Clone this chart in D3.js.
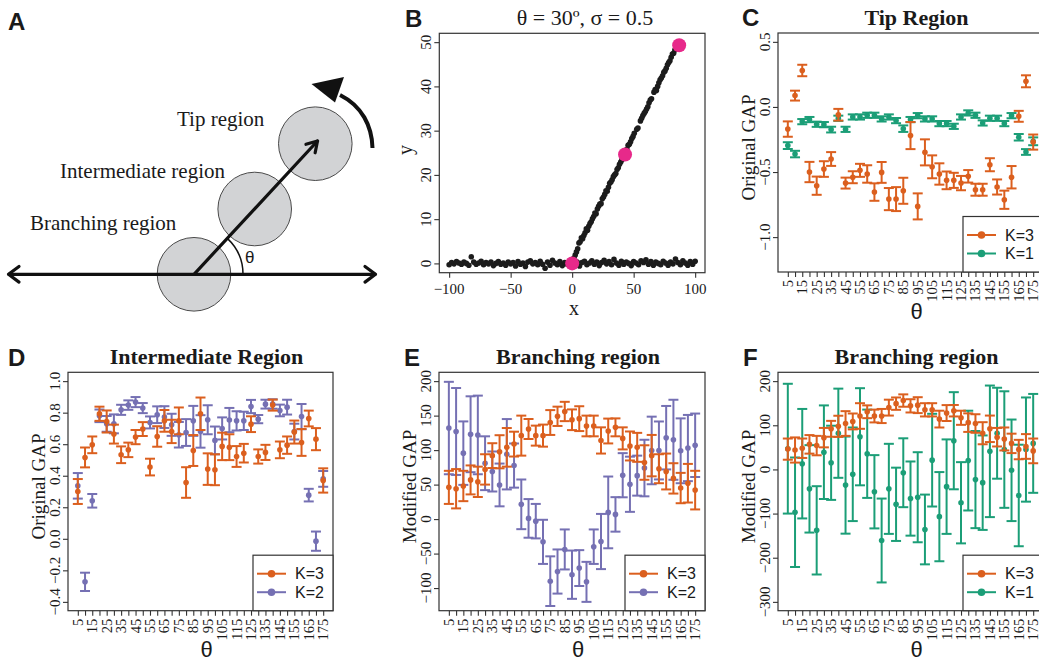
<!DOCTYPE html>
<html>
<head>
<meta charset="utf-8">
<script src="https://cdn.jsdelivr.net/npm/d3@7"></script>
<style>
  body { margin: 0; background: #fff; }
</style>
</head>
<body>
<div id="viz"></div>
<script>
const width = 1039;
const height = 662;
const serif = '"Liberation Serif", "Times New Roman", serif';
const sans = '"Liberation Sans", Arial, sans-serif';
const ink = '#1a1a1a';
const orange = '#DB5F1E';
const green = '#1B9E77';
const purple = '#7570B3';
const magenta = '#E7298A';

// Angles (deg) shared by panels C-F
const theta = [5, 10, 15, 20, 25, 30, 35, 40, 45, 50, 55, 60, 65, 70, 75, 80, 85, 90, 95, 100,
  105, 110, 115, 120, 125, 130, 135, 140, 145, 150, 155, 160, 165, 170, 175];

// Panel B: simulated branch, theta = 30, sigma = 0.5
const bBaseX = [-100, -98, -96, -94, -92, -90, -88, -86, -84, -82, -80, -78, -76, -74, -72, -70, -68, -66, -64, -62,
  -60, -58, -56, -54, -52, -50, -48, -46, -44, -42, -40, -38, -36, -34, -32, -30, -28, -26, -24, -22,
  -20, -18, -16, -14, -12, -10, -8, -6, -4, -2, 0, 2, 4, 6, 8, 10, 12, 14, 16, 18,
  20, 22, 24, 26, 28, 30, 32, 34, 36, 38, 40, 42, 44, 46, 48, 50, 52, 54, 56, 58,
  60, 62, 64, 66, 68, 70, 72, 74, 76, 78, 80, 82, 84, 86, 88, 90, 92, 94, 96, 98, 100];
const bBaseY = [-0.3, 0.2, -0.1, 0.4, 0.1, -0.2, 0.3, 0.0, -0.4, 1.5, 0.3, -0.2, 0.1, 0.5, -0.3, 0.2, -0.1, 0.3, -0.5, 0.0,
  0.4, -0.2, 0.1, -0.4, 0.3, -0.1, 0.2, -0.6, 0.4, -0.2, 0.1, -0.7, 0.3, 0.6, -0.1, 0.2, -0.3, 0.5, -0.2, -1.1,
  0.3, -0.4, 0.7, 0.1, -0.3, 0.4, -0.5, 0.2, -0.2, 0.6, 0.0, -0.4, 0.3, -0.6, 0.2, 0.5, -0.3, 0.1, 0.6, -0.2,
  0.3, -0.5, 0.2, 0.7, -0.1, 0.4, -0.3, 0.9, 0.1, -0.4, 0.5, -0.2, 0.3, 0.0, -0.5, 0.4, 0.1, -0.3, 0.6, 0.2,
  0.8, -0.2, 0.4, -0.4, 0.3, 0.0, -0.3, 0.5, 0.1, -0.4, 0.3, -0.1, 1.0, 0.2, -0.3, 0.6, 0.1, -0.4, 0.4, -0.2, 0.5];
const bBranchX = [1.5, 2.5, 3.5, 4.5, 5.5, 6.5, 7.5, 8.5, 9.5, 10.5, 11.5, 12.5, 13.5, 14.5, 15.5, 16.5, 17.5, 18.5, 19.5, 20.5,
  21.5, 22.5, 23.5, 24.5, 25.5, 26.5, 27.5, 28.5, 29.5, 30.5, 31.5, 32.5, 33.5, 34.5, 35.5, 36.5, 37.5, 38.5, 39.5, 40.5,
  41.5, 44.5, 45.5, 46.5, 47.5, 48.5, 49.5, 50.5, 52.5, 53.5, 55.5, 56.5, 57.5, 58.5, 59.5, 60.5, 61.5, 62.5, 63.5, 64.5,
  66.5, 67.5, 68.5, 69.5, 70.5, 71.5, 72.5, 73.5, 74.5, 75.5, 76.5, 77.5, 78.5, 79.5, 80.5, 81.5, 82.5, 83.5, 84.5, 85.5];
const bBranchY = [1.2, 1.9, 2.6, 3.3, 4.6, 4.9, 5.8, 5.6, 6.3, 6.9, 7.8, 7.5, 8.4, 9.0, 9.4, 10.1, 10.6, 11.4, 11.2, 12.3,
  12.9, 13.4, 13.5, 14.6, 15.0, 15.6, 16.4, 16.3, 17.2, 18.1, 18.4, 18.9, 19.6, 20.0, 20.3, 21.2, 21.6, 22.4, 22.9, 23.4,
  24.2, 25.8, 26.7, 26.9, 27.5, 28.2, 28.7, 29.4, 30.3, 30.6, 32.2, 32.8, 33.4, 33.9, 34.3, 34.9, 35.4, 36.3, 36.9, 37.2,
  38.7, 39.3, 39.1, 40.0, 40.8, 41.5, 41.9, 42.4, 43.2, 43.5, 44.1, 44.9, 45.4, 45.8, 46.6, 47.3, 47.5, 48.2, 48.9, 49.4];
const bMarkX = [0, 43, 87];
const bMarkY = [0, 24.6, 49.3];

// Panel C: tip region, original GAP
const tipK3Mean = [-0.17, 0.087, 0.28, -0.50, -0.605, -0.477, -0.40, -0.06, -0.585, -0.54, -0.487, -0.515, -0.654, -0.503, -0.708, -0.708, -0.644, -0.22,
  -0.764, -0.349, -0.46, -0.515, -0.564, -0.564, -0.585, -0.533, -0.636, -0.636, -0.444, -0.615, -0.713, -0.54, -0.072, 0.197, -0.27];
const tipK3Err = [0.059, 0.038, 0.044, 0.078, 0.070, 0.060, 0.053, 0.045, 0.042, 0.046, 0.050, 0.067, 0.067, 0.080, 0.085, 0.092, 0.100, 0.104,
  0.100, 0.100, 0.088, 0.082, 0.068, 0.058, 0.055, 0.048, 0.046, 0.046, 0.050, 0.058, 0.070, 0.086, 0.042, 0.046, 0.058];
const tipK1Mean = [-0.297, -0.362, -0.113, -0.097, -0.133, -0.136, -0.174, -0.087, -0.172, -0.077, -0.077, -0.064, -0.064, -0.092, -0.077, -0.105, -0.167, -0.097,
  -0.067, -0.092, -0.092, -0.128, -0.128, -0.149, -0.077, -0.046, -0.064, -0.123, -0.087, -0.087, -0.128, -0.067, -0.233, -0.346, -0.264];
const tipK1Err = [0.026, 0.025, 0.02, 0.02, 0.02, 0.02, 0.022, 0.02, 0.02, 0.02, 0.02, 0.02, 0.02, 0.02, 0.02, 0.02, 0.025, 0.02,
  0.02, 0.02, 0.02, 0.02, 0.02, 0.02, 0.02, 0.02, 0.02, 0.02, 0.02, 0.02, 0.02, 0.02, 0.025, 0.022, 0.03];

// Panel D: intermediate region, original GAP
const interK3Mean = [0.30, 0.516, 0.596, 0.793, 0.744, 0.664, 0.533, 0.564, 0.645, 0.696, 0.455, 0.649, 0.748, 0.681, 0.748, 0.357, 0.56, 0.793,
  0.442, 0.438, 0.586, 0.581, 0.522, 0.543, 0.727, 0.522, 0.548, 0.848, 0.564, 0.594, 0.677, 0.611, 0.763, 0.632, 0.37];
const interK3Err = [0.079, 0.063, 0.053, 0.045, 0.07, 0.06, 0.053, 0.046, 0.045, 0.044, 0.053, 0.065, 0.069, 0.074, 0.085, 0.097, 0.098, 0.103,
  0.1, 0.098, 0.087, 0.082, 0.066, 0.059, 0.05, 0.045, 0.048, 0.035, 0.053, 0.055, 0.073, 0.085, 0.05, 0.07, 0.077];
const interK2Mean = [0.336, -0.273, 0.241, 0.78, 0.729, 0.729, 0.818, 0.848, 0.867, 0.829, 0.738, 0.787, 0.772, 0.723, 0.66, 0.674, 0.748, 0.681,
  0.755, 0.624, 0.70, 0.753, 0.748, 0.748, 0.839, 0.759, 0.854, 0.855, 0.814, 0.835, 0.68, 0.775, 0.277, -0.015, 0.38];
const interK2Err = [0.081, 0.058, 0.043, 0.04, 0.05, 0.06, 0.032, 0.03, 0.032, 0.032, 0.038, 0.053, 0.069, 0.07, 0.081, 0.085, 0.095, 0.103,
  0.092, 0.088, 0.07, 0.077, 0.061, 0.058, 0.042, 0.026, 0.028, 0.03, 0.037, 0.047, 0.05, 0.08, 0.04, 0.061, 0.05];

// Panels E and F: branching region, modified GAP
const branchK3Mean = [46, 44, 48, 56.8, 54, 72, 92, 97.6, 104, 108.7, 121, 130.6, 121, 121, 140, 149, 156, 144,
  145.6, 135, 135, 114, 127.7, 133, 117, 106, 104, 82, 92, 73, 69, 59, 45, 52, 42];
const branchK3Err = [24, 28.5, 22, 21, 22, 22, 18, 24, 28, 18, 29, 14.5, 14.5, 16, 18, 14, 14, 15,
  18, 15, 15, 19, 18, 13, 16, 21, 21, 25, 30, 21, 26, 22, 22, 28, 28];
const branchK2Mean = [132, 127, 95.6, 123, 122, 81, 69, 49.5, 94, 77.6, 21.4, 1, -3, -33, -90, -76, -44, -80.6,
  -71, -91, -40, -32.5, 9.7, 6.8, 63.6, 50.5, 63, 74, 99.5, 99.5, 118, 115, 99, 103, 107];
const branchK2Err = [67, 63, 46, 55, 57, 39, 29, 31, 51, 32, 36, 28, 25, 32, 36, 32, 29, 35,
  26, 29, 25, 40, 52, 25, 32, 40, 29, 41, 49, 42, 46, 58, 47, 48, 46];
const branchK1Mean = [47, -97, 13, -44, -138, 39, 15, 82, -35.5, -11, 74, 35.5, -50.6, -161, -44, -79, -7.5, -66,
  -63, -136, 21, -107, -39, 65, -75.5, 20, -23, -30, 41, 82, 45, -2, -59, 45, 59];
const branchK1Err = [147, 124, 124, 99, 100, 106, 84, 101, 110, 106, 110, 100, 83, 95, 102, 83, 78, 84,
  102, 79, 105, 101, 107, 110, 92, 113, 110, 107, 149, 103, 132, 115, 115, 118, 112];

const svg = d3.select('#viz')
  .append('svg')
    .attr('width', width)
    .attr('height', height)
    .attr('viewBox', [0, 0, width, height]);
svg.append('rect').attr('width', width).attr('height', height).attr('fill', '#fff');

// Panel letters
const letters = [['A', 8, 30], ['B', 405, 27], ['C', 742, 26], ['D', 8, 366], ['E', 404, 366], ['F', 743, 366]];
svg.selectAll('text.letter')
  .data(letters)
  .join('text')
    .attr('class', 'letter')
    .attr('x', d => d[1])
    .attr('y', d => d[2])
    .attr('font-family', sans)
    .attr('font-weight', 'bold')
    .attr('font-size', 24)
    .attr('fill', ink)
    .text(d => d[0]);

// ---------- Panel A: schematic ----------
const gA = svg.append('g');
const circles = [[194, 274.3], [254.7, 209], [315.3, 143.7]];
gA.selectAll('circle')
  .data(circles)
  .join('circle')
    .attr('cx', d => d[0])
    .attr('cy', d => d[1])
    .attr('r', 36.8)
    .attr('fill', '#d2d3d5')
    .attr('stroke', '#4a4a4a')
    .attr('stroke-width', 1);

const armStyle = sel => sel.attr('fill', 'none').attr('stroke', '#111').attr('stroke-width', 3.2)
  .attr('stroke-linecap', 'round').attr('stroke-linejoin', 'round');
gA.append('line').attr('x1', 9).attr('y1', 274.3).attr('x2', 375).attr('y2', 274.3).call(armStyle);
gA.append('path').attr('d', 'M19,266.5 L8.5,274.3 L19,282.1').call(armStyle);
gA.append('path').attr('d', 'M365,266.5 L375.5,274.3 L365,282.1').call(armStyle);

// main arrow
const ax0 = 194, ay0 = 274.3, ax1 = 317.5, ay1 = 141;
gA.append('line').attr('x1', ax0).attr('y1', ay0).attr('x2', ax1).attr('y2', ay1).call(armStyle);
const ang = Math.atan2(ay1 - ay0, ax1 - ax0);
const head = [ang + Math.PI - 0.55, ang + Math.PI + 0.55].map(a => [ax1 + 12 * Math.cos(a), ay1 + 12 * Math.sin(a)]);
gA.append('path').attr('d', `M${head[0]} L${ax1},${ay1} L${head[1]}`).call(armStyle);

// theta arc
const rArc = 49;
gA.append('path')
  .attr('d', `M${ax0 + rArc},${ay0} A${rArc},${rArc} 0 0 0 ${ax0 + rArc * Math.cos(ang)},${ay0 + rArc * Math.sin(ang)}`)
  .attr('fill', 'none').attr('stroke', '#111').attr('stroke-width', 1.5);
gA.append('text').attr('x', 245).attr('y', 263).attr('font-family', sans).attr('font-size', 17)
  .attr('fill', ink).text('θ');

// rotation arrow
gA.append('path').attr('d', 'M372.5,148 C372,126 362,106 340,95')
  .attr('fill', 'none').attr('stroke', '#111').attr('stroke-width', 4);
gA.append('path').attr('d', 'M311.5,84 L344,77 L335,102.5 Z').attr('fill', '#111');

const regionLabels = [['Tip region', 177, 126], ['Intermediate region', 60, 178], ['Branching region', 30, 230]];
gA.selectAll('text.region')
  .data(regionLabels)
  .join('text')
    .attr('class', 'region')
    .attr('x', d => d[1])
    .attr('y', d => d[2])
    .attr('font-family', serif)
    .attr('font-size', 21)
    .attr('fill', ink)
    .text(d => d[0]);

// ---------- helpers ----------
const boxStyle = sel => sel.attr('fill', 'none').attr('stroke', '#333').attr('stroke-width', 1.2);

function yTickLabels(g, scale, ticks, fmt, bx) {
  g.selectAll('text.ytl')
    .data(ticks)
    .join('text')
      .attr('class', 'ytl')
      .attr('transform', d => `translate(${bx},${scale(d)}) rotate(-90)`)
      .attr('text-anchor', 'middle')
      .attr('font-family', serif)
      .attr('font-size', 15)
      .attr('fill', ink)
      .text(fmt);
}

function tickMarks(g, axis, transform) {
  g.append('g')
    .attr('transform', transform)
    .attr('color', '#333')
    .call(axis)
    .call(a => a.select('.domain').remove())
    .call(a => a.selectAll('line').attr('stroke-width', 1.1));
}

// ---------- Panel B ----------
(function drawB() {
  const p = {x0: 439.3, x1: 705, y0: 33.3, y1: 272.7};
  const xScale = d3.scaleLinear().domain([-108, 108]).range([p.x0, p.x1]);
  const yScale = d3.scaleLinear().domain([-2.1, 52]).range([p.y1, p.y0]);
  const g = svg.append('g');

  tickMarks(g, d3.axisBottom(xScale).tickValues([-100, -50, 0, 50, 100]).tickSize(5).tickFormat(''),
    `translate(0,${p.y1})`);
  tickMarks(g, d3.axisLeft(yScale).tickValues([0, 10, 20, 30, 40, 50]).tickSize(5).tickFormat(''),
    `translate(${p.x0},0)`);

  g.selectAll('text.xtl')
    .data([-100, -50, 0, 50, 100])
    .join('text')
      .attr('x', d => xScale(d))
      .attr('y', 293.5)
      .attr('text-anchor', 'middle')
      .attr('font-family', serif)
      .attr('font-size', 15)
      .attr('fill', ink)
      .text(d3.format('d'));
  yTickLabels(g, yScale, [0, 10, 20, 30, 40, 50], d3.format('d'), 431);

  g.append('g').attr('fill', '#1c1c1c')
    .selectAll('circle')
    .data(bBaseX.map((x, i) => [x, bBaseY[i]]).concat(bBranchX.map((x, i) => [x, bBranchY[i]])))
    .join('circle')
      .attr('cx', d => xScale(d[0]))
      .attr('cy', d => yScale(d[1]))
      .attr('r', 2.8);
  g.append('g').attr('fill', magenta)
    .selectAll('circle')
    .data(bMarkX.map((x, i) => [x, bMarkY[i]]))
    .join('circle')
      .attr('cx', d => xScale(d[0]))
      .attr('cy', d => yScale(d[1]))
      .attr('r', 7);

  g.append('rect').attr('x', p.x0).attr('y', p.y0).attr('width', p.x1 - p.x0).attr('height', p.y1 - p.y0).call(boxStyle);

  g.append('text').attr('x', 585).attr('y', 25).attr('text-anchor', 'middle')
    .attr('font-family', serif).attr('font-size', 22).attr('fill', ink)
    .text('θ = 30º, σ = 0.5');
  g.append('text').attr('x', 574).attr('y', 315).attr('text-anchor', 'middle')
    .attr('font-family', serif).attr('font-size', 20).attr('fill', ink).text('x');
  g.append('text').attr('transform', 'translate(412,150) rotate(-90)').attr('text-anchor', 'middle')
    .attr('font-family', serif).attr('font-size', 20).attr('fill', ink).text('y');
})();

// ---------- Panels C-F ----------
function drawPanel(c) {
  const xScale = d3.scaleLinear()
    .domain([theta[0] - 6.8, theta[theta.length - 1] + 6.8])
    .range([c.x0, c.x1]);
  const yScale = d3.scaleLinear().domain(c.ydom).range([c.y1, c.y0]);
  const g = svg.append('g');

  // error bars and means, K=3 drawn last
  c.series.slice().reverse().forEach(s => {
    const rows = theta.map((t, i) => ({t, m: s.mean[i], e: s.err[i]}));
    const sg = g.append('g').attr('stroke', s.color).attr('fill', s.color).attr('stroke-width', 2);
    sg.selectAll('line.bar').data(rows).join('line')
      .attr('x1', d => xScale(d.t)).attr('x2', d => xScale(d.t))
      .attr('y1', d => yScale(d.m - d.e)).attr('y2', d => yScale(d.m + d.e));
    sg.selectAll('line.capHi').data(rows).join('line').attr('class', 'capHi')
      .attr('x1', d => xScale(d.t) - 5).attr('x2', d => xScale(d.t) + 5)
      .attr('y1', d => yScale(d.m + d.e)).attr('y2', d => yScale(d.m + d.e));
    sg.selectAll('line.capLo').data(rows).join('line').attr('class', 'capLo')
      .attr('x1', d => xScale(d.t) - 5).attr('x2', d => xScale(d.t) + 5)
      .attr('y1', d => yScale(d.m - d.e)).attr('y2', d => yScale(d.m - d.e));
    sg.selectAll('circle').data(rows).join('circle')
      .attr('stroke', 'none')
      .attr('cx', d => xScale(d.t))
      .attr('cy', d => yScale(d.m))
      .attr('r', 2.8);
  });

  tickMarks(g, d3.axisBottom(xScale).tickValues(theta).tickSize(5).tickFormat(''), `translate(0,${c.y1})`);
  tickMarks(g, d3.axisLeft(yScale).tickValues(c.yticks).tickSize(5).tickFormat(''), `translate(${c.x0},0)`);

  g.selectAll('text.xtl')
    .data(theta.filter((d, i) => i % 2 === 0))
    .join('text')
      .attr('transform', d => `translate(${xScale(d) + 5},${c.y1 + 8}) rotate(-90)`)
      .attr('text-anchor', 'end')
      .attr('font-family', serif)
      .attr('font-size', 14.5)
      .attr('fill', ink)
      .text(d => d);
  yTickLabels(g, yScale, c.yticks, c.yfmt, c.x0 - 8);

  g.append('rect').attr('x', c.x0).attr('y', c.y0).attr('width', c.x1 - c.x0).attr('height', c.y1 - c.y0).call(boxStyle);

  const cx = (c.x0 + c.x1) / 2 + 6;
  g.append('text').attr('x', cx).attr('y', c.y0 - 8.5).attr('text-anchor', 'middle')
    .attr('font-family', serif).attr('font-weight', 'bold').attr('font-size', 22).attr('fill', ink)
    .text(c.title);
  g.append('text').attr('x', cx).attr('y', c.y1 + 46.5).attr('text-anchor', 'middle')
    .attr('font-family', sans).attr('font-size', 22).attr('fill', ink).text('θ');
  g.append('text')
    .attr('transform', `translate(${c.x0 - 23},${(c.y0 + c.y1) / 2 - 5}) rotate(-90)`)
    .attr('text-anchor', 'middle')
    .attr('font-family', serif).attr('font-size', 19).attr('fill', ink)
    .text(c.ylab);

  // legend
  const lx = c.x1 - 80, ly = c.y1 - 55.5;
  const lg = g.append('g');
  lg.append('rect').attr('x', lx).attr('y', ly).attr('width', 80).attr('height', 55.5)
    .attr('fill', '#fff').attr('stroke', '#333').attr('stroke-width', 1.2);
  c.series.forEach((s, i) => {
    const yy = ly + 18.5 + i * 18.5;
    lg.append('line').attr('x1', lx + 4).attr('x2', lx + 33).attr('y1', yy).attr('y2', yy)
      .attr('stroke', s.color).attr('stroke-width', 2);
    lg.append('circle').attr('cx', lx + 18.5).attr('cy', yy).attr('r', 3.8).attr('fill', s.color);
    lg.append('text').attr('x', lx + 42).attr('y', yy + 5.5)
      .attr('font-family', sans).attr('font-size', 16).attr('fill', ink).text(s.label);
  });
}

const fmt1 = d3.format('.1f');
const fmt0 = d3.format('d');

drawPanel({
  x0: 778, x1: 1043, y0: 33, y1: 272,
  ydom: [-1.268, 0.568], yticks: [-1.0, -0.5, 0.0, 0.5], yfmt: fmt1,
  title: 'Tip Region', ylab: 'Original GAP',
  series: [{label: 'K=3', color: orange, mean: tipK3Mean, err: tipK3Err},
           {label: 'K=1', color: green, mean: tipK1Mean, err: tipK1Err}]
});
drawPanel({
  x0: 68, x1: 333, y0: 372.3, y1: 610.7,
  ydom: [-0.456, 1.056], yticks: [-0.4, -0.2, 0.0, 0.2, 0.4, 0.6, 0.8, 1.0], yfmt: fmt1,
  title: 'Intermediate Region', ylab: 'Original GAP',
  series: [{label: 'K=3', color: orange, mean: interK3Mean, err: interK3Err},
           {label: 'K=2', color: purple, mean: interK2Mean, err: interK2Err}]
});
drawPanel({
  x0: 439, x1: 705, y0: 372.3, y1: 610.7,
  ydom: [-132.8, 212.8], yticks: [-100, -50, 0, 50, 100, 150, 200], yfmt: fmt0,
  title: 'Branching region', ylab: 'Modified GAP',
  series: [{label: 'K=3', color: orange, mean: branchK3Mean, err: branchK3Err},
           {label: 'K=2', color: purple, mean: branchK2Mean, err: branchK2Err}]
});
drawPanel({
  x0: 778, x1: 1043, y0: 372.3, y1: 610.7,
  ydom: [-320, 220], yticks: [-300, -200, -100, 0, 100, 200], yfmt: fmt0,
  title: 'Branching region', ylab: 'Modified GAP',
  series: [{label: 'K=3', color: orange, mean: branchK3Mean, err: branchK3Err},
           {label: 'K=1', color: green, mean: branchK1Mean, err: branchK1Err}]
});
</script>
</body>
</html>
